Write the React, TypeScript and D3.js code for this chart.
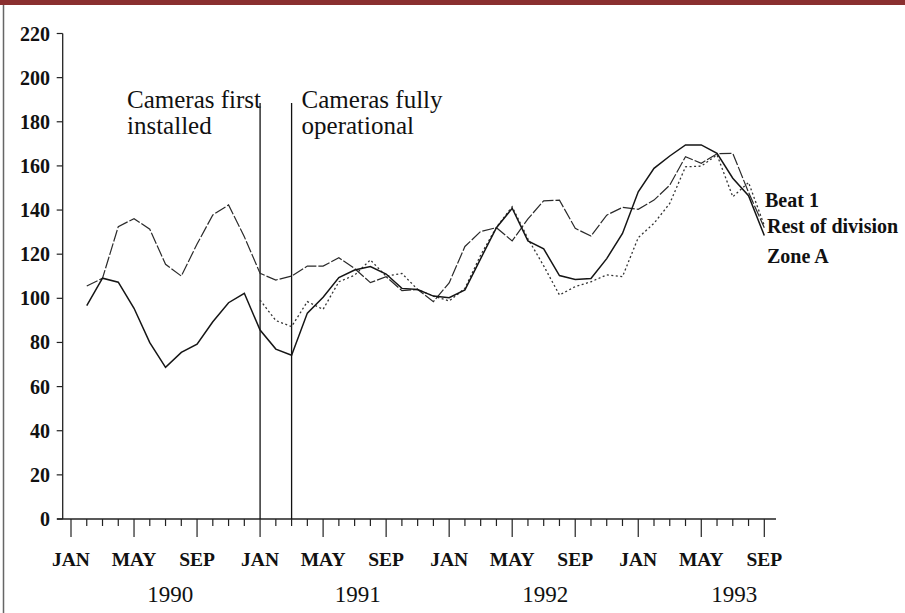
import * as d3 from "d3";

// tick labels along the month axis (every 4 months from JAN 1990)
const monthLabels = ["JAN", "MAY", "SEP", "JAN", "MAY", "SEP", "JAN", "MAY", "SEP", "JAN", "MAY", "SEP"];
const yearLabels = ["1990", "1991", "1992", "1993"];
const yearCentres = [6.3, 18.2, 30.1, 42.1]; // in months from JAN 1990
const yTicks = [0, 20, 40, 60, 80, 100, 120, 140, 160, 180, 200, 220];

// series: month index 0 = JAN 1990
const dashedStart = 1;
const dashedValues = [
  105.6, 109.1, 132.5, 136.1, 131.3, 115.4, 110.1, 124.6, 137.8, 142.3, 127.9,
  111.3, 108.3, 110.1, 114.6, 114.6, 118.4, 113.5, 107.1, 109.8, 103.5, 104, 98.5,
  107, 123.5, 130.3, 132, 126, 136, 144.2, 144.5, 131.7, 128.2, 137.7, 141.2, 140.3,
  144.5, 151.3, 164.2, 161.2, 165.5, 165.7, 148, 132,
];
const solidStart = 1;
const solidValues = [
  96.7, 109.1, 107.3, 95.5, 79.9, 68.7, 75.5, 79.2, 89.4, 98, 102.3,
  85.6, 77, 74.2, 93.3, 100.5, 109.4, 112.8, 114.4, 111, 104.5, 104, 101,
  100.3, 103.8, 118, 132, 140.8, 126, 122.4, 110.3, 108.5, 109, 118, 129.4, 148.3,
  158.9, 164.5, 169.5, 169.5, 165.7, 154.4, 146.5, 128.5,
];
const dottedStart = 12;
const dottedValues = [
  99.2, 89.9, 87.2, 98.5, 95, 107.5, 110.5, 117.4, 110, 111.3, 104, 101,
  98.8, 104.5, 119.6, 132.2, 141.5, 127, 114.7, 101.5, 105.3, 107.5, 110.6, 109.8,
  127.5, 134, 143, 159.6, 159.9, 165, 146, 152.5, 133,
];

const eventMonths = [12, 14];
const eventTexts = [["Cameras first", "installed"], ["Cameras fully", "operational"]];
const legendLabels = ["Beat 1", "Rest of division", "Zone A"];

const W = 905;
const H = 613;
const serif = "'Liberation Serif', 'Times New Roman', serif";

export default function App() {
  const x = d3.scaleLinear().domain([0, 44]).range([71, 764.3]);
  const y = d3.scaleLinear().domain([0, 220]).range([519, 33.5]);

  const toPts = (start: number, vals: number[]) => vals.map((v, i) => [start + i, v] as [number, number]);
  const line = d3.line<[number, number]>().x(d => x(d[0])).y(d => y(d[1]));

  const monthTicks = d3.range(0, 45);

  return (
    <svg width={W} height={H} style={{ position: "absolute", left: 0, top: 0, background: "#fff" }}
      fontFamily={serif}>
      {/* frame */}
      <rect x={0} y={0} width={W} height={5} fill="#8a2f2f" />
      <line x1={3.5} x2={3.5} y1={5} y2={H} stroke="#666" strokeWidth={1.5} />

      {/* y axis */}
      <line x1={x(0) - 8.3} x2={x(0) - 8.3} y1={y(220)} y2={y(0)} stroke="#222" strokeWidth={1.3} />
      {yTicks.map(t => (
        <g key={t}>
          <line x1={56.7} x2={62.7} y1={y(t)} y2={y(t)} stroke="#222" strokeWidth={1.2} />
          <text x={50} y={y(t)} dy="0.35em" textAnchor="end" fontSize={20} fontWeight="bold" fill="#111">
            {t}
          </text>
        </g>
      ))}

      {/* x axis */}
      <line x1={57} x2={776} y1={y(0)} y2={y(0)} stroke="#222" strokeWidth={1.5} />
      {monthTicks.map(m => (
        <line key={m} x1={x(m)} x2={x(m)} y1={y(0)} y2={y(0) + (m % 4 === 0 ? 18 : 7)}
          stroke="#222" strokeWidth={1.2} />
      ))}
      {monthLabels.map((l, i) => (
        <text key={i} x={x(i * 4)} y={566} textAnchor="middle" fontSize={19.5} fontWeight="bold" fill="#111">
          {l}
        </text>
      ))}
      {yearLabels.map((l, i) => (
        <text key={l} x={x(yearCentres[i])} y={602} textAnchor="middle" fontSize={23} fill="#111">
          {l}
        </text>
      ))}

      {/* camera events */}
      {eventMonths.map(m => (
        <line key={m} x1={x(m)} x2={x(m)} y1={y(188.5)} y2={y(0)} stroke="#111" strokeWidth={1.3} />
      ))}
      <text x={127} y={108} fontSize={25} fill="#111">{eventTexts[0][0]}</text>
      <text x={127} y={134} fontSize={25} fill="#111">{eventTexts[0][1]}</text>
      <text x={x(eventMonths[1]) + 10} y={108} fontSize={25} fill="#111">{eventTexts[1][0]}</text>
      <text x={x(eventMonths[1]) + 10} y={134} fontSize={25} fill="#111">{eventTexts[1][1]}</text>

      {/* series */}
      <path d={line(toPts(dashedStart, dashedValues)) || ""} fill="none" stroke="#2a2a2a"
        strokeWidth={1.2} strokeDasharray="12 2" />
      <path d={line(toPts(dottedStart, dottedValues)) || ""} fill="none" stroke="#333"
        strokeWidth={1.3} strokeDasharray="2 2.5" />
      <path d={line(toPts(solidStart, solidValues)) || ""} fill="none" stroke="#151515"
        strokeWidth={1.5} />

      {/* labels at the line ends */}
      {legendLabels.map((l, i) => (
        <text key={l} x={i === 0 ? 765 : 767} y={[207, 233, 263][i]} fontSize={20} fontWeight="bold" fill="#111">
          {l}
        </text>
      ))}
    </svg>
  );
}
